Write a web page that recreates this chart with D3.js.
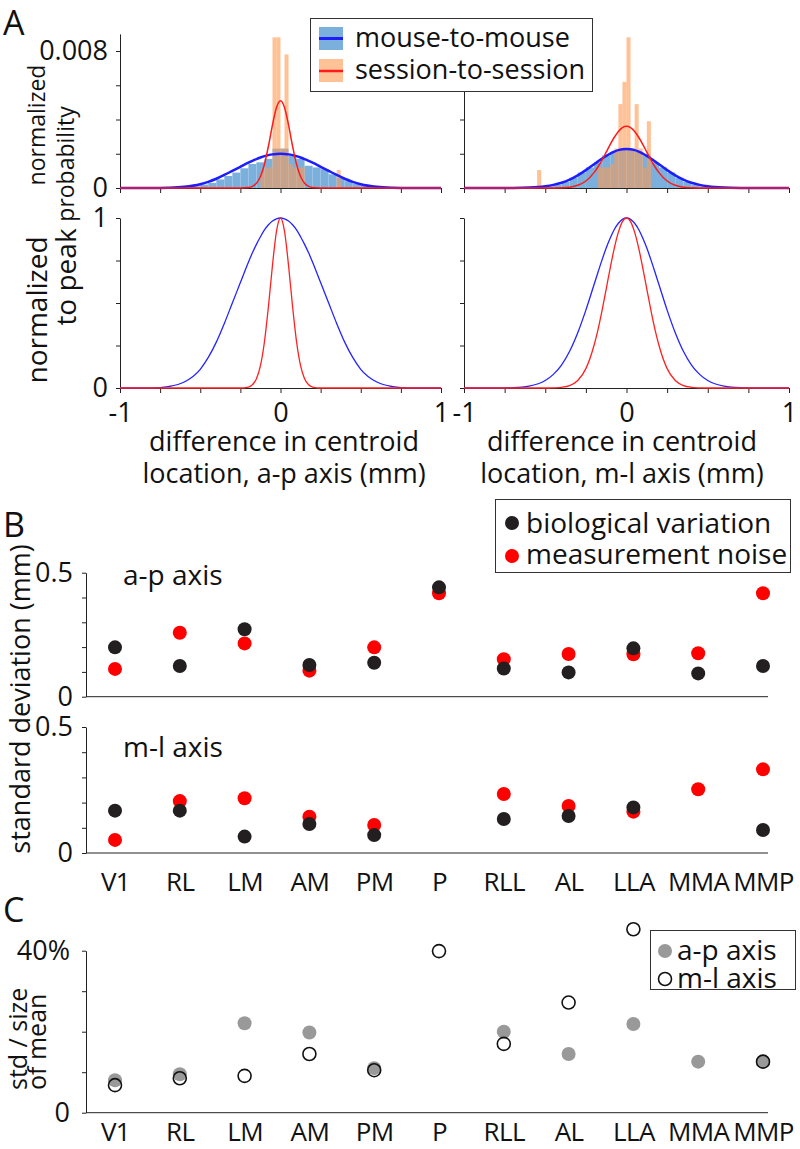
<!DOCTYPE html>
<html>
<head>
<meta charset="utf-8">
<script src="https://cdn.jsdelivr.net/npm/d3@7"></script>
<style>
  body { margin: 0; background: #fff; }
  text { font-family: "Open Sans", sans-serif; fill: #111; }
</style>
</head>
<body>
<div id="fig"></div>
<script>
// ---------- datos ----------

// A: histogramas (probabilidad normalizada por bin), x en mm
const mouseLeftStart = -0.65, mouseRightStart = -0.55, mouseBin = 0.05;
const mouseLeftVals = [0.00002, 0.00005, 0.0001, 0.0002, 0.0003, 0.0005, 0.0007, 0.0009, 0.00115, 0.0014, 0.0015, 0.0017, 0.0023,
                       0.0023, 0.0019, 0.0017, 0.0013, 0.0012, 0.0011, 0.0008, 0.0006, 0.0004, 0.00025, 0.00012, 0.00006, 0.00002];
const mouseRightVals = [0.00004, 0.0001, 0.0002, 0.00035, 0.0006, 0.0009, 0.0012, 0.0015, 0.0019, 0.0021, 0.0023,
                        0.0023, 0.0021, 0.0019, 0.0015, 0.0012, 0.0009, 0.0006, 0.00035, 0.0002, 0.0001, 0.00004];
const sessLeftStart = -0.15, sessRightStart = -0.55, sessBin = 0.025;
const sessLeftVals = [0, 0.0009, 0.0012, 0.0012, 0.0088, 0.0088, 0.0023, 0.0078, 0.0014, 0.0012, 0.0012, 0.0012,
                      0, 0, 0, 0, 0, 0, 0, 0, 0.00105, 0];
const sessRightVals = [0.00105, 0, 0, 0, 0, 0, 0, 0, 0, 0, 0, 0, 0, 0, 0,
                       0.0012, 0.0012, 0.0012, 0.0014, 0.0023, 0.0049, 0.0062, 0.0088, 0.0023, 0.0049, 0.0023, 0.0012, 0.0039];

// A: curvas ajustadas (normalizadas al pico)
const curveX = [-1, -0.8, -0.7, -0.6, -0.5, -0.45, -0.4, -0.35, -0.3, -0.25, -0.2, -0.175, -0.15, -0.125, -0.1, -0.075, -0.05, -0.025,
                0, 0.025, 0.05, 0.075, 0.1, 0.125, 0.15, 0.175, 0.2, 0.25, 0.3, 0.35, 0.4, 0.45, 0.5, 0.6, 0.7, 0.8, 1];
const blueLeftNorm = [0, 0, 0.008, 0.035, 0.11, 0.18, 0.27, 0.38, 0.5, 0.62, 0.74, 0.795, 0.845, 0.89, 0.93, 0.96, 0.982, 0.995,
                      1, 0.995, 0.982, 0.96, 0.93, 0.89, 0.845, 0.795, 0.74, 0.62, 0.5, 0.38, 0.27, 0.18, 0.11, 0.035, 0.008, 0, 0];
const redLeftNorm = [0, 0, 0, 0, 0, 0, 0, 0, 0, 0, 0.0055, 0.019, 0.054, 0.131, 0.272, 0.481, 0.722, 0.922,
                     1, 0.922, 0.722, 0.481, 0.272, 0.131, 0.054, 0.019, 0.0055, 0, 0, 0, 0, 0, 0, 0, 0, 0, 0];
const blueRightNorm = [0, 0, 0.002, 0.011, 0.044, 0.080, 0.135, 0.216, 0.325, 0.458, 0.607, 0.682, 0.755, 0.823, 0.882, 0.932, 0.969, 0.992,
                       1, 0.992, 0.969, 0.932, 0.882, 0.823, 0.755, 0.682, 0.607, 0.458, 0.325, 0.216, 0.135, 0.080, 0.044, 0.011, 0.002, 0, 0];
const redRightNorm = [0, 0, 0, 0, 0, 0.001, 0.004, 0.014, 0.044, 0.114, 0.250, 0.345, 0.458, 0.582, 0.707, 0.823, 0.917, 0.979,
                      1, 0.979, 0.917, 0.823, 0.707, 0.582, 0.458, 0.345, 0.250, 0.114, 0.044, 0.014, 0.004, 0.001, 0, 0, 0, 0, 0];
const peaksLeft = [0.0020, 0.0051];   // [mouse-to-mouse, session-to-session]
const peaksRight = [0.00228, 0.0036];

const xTicksA = [-1, -0.75, -0.5, -0.25, 0, 0.25, 0.5, 0.75, 1];
const probTicks = [0, 0.002, 0.004, 0.006, 0.008];
const normTicks = [0, 0.25, 0.5, 0.75, 1];

// B y C: areas visuales
const areas = ["V1", "RL", "LM", "AM", "PM", "P", "RLL", "AL", "LLA", "MMA", "MMP"];
const bioAP   = [0.199, 0.124, 0.272, 0.128, 0.137, 0.441, 0.114, 0.098, 0.195, 0.094, 0.124];
const noiseAP = [0.112, 0.258, 0.215, 0.105, 0.199, 0.417, 0.151, 0.172, 0.171, 0.175, 0.417];
const bioML   = [0.168, 0.168, 0.065, 0.115, 0.071, null, 0.135, 0.147, 0.181, null, 0.091];
const noiseML = [0.052, 0.206, 0.217, 0.144, 0.111, null, 0.234, 0.187, 0.164, 0.253, 0.332];
const relAP = [8.0, 9.5, 22.1, 19.8, 11.0, null, 20.0, 14.5, 21.9, 12.6, 12.6];   // %
const relML = [6.8, 8.5, 9.1, 14.5, 10.5, 39.9, 17.0, 27.2, 45.3, null, 12.6];
const sdTicks = [0, 0.1, 0.2, 0.3, 0.4, 0.5];
const relTicks = [0, 10, 20, 30, 40];

// ---------- figura ----------
const W = 800, H = 1149, FS = 27, FS_LEG = 28;
const BLUE_HIST = "#7cb0dc", ORANGE_HIST = "#ff9a50";

const svg = d3.select("#fig").append("svg").attr("width", W).attr("height", H);
svg.append("rect").attr("width", W).attr("height", H).attr("fill", "#fff");

function styleAxis(g) {
  g.attr("font-size", FS).attr("font-family", "Open Sans").attr("color", "#222");
  g.selectAll("text").attr("fill", "#111");
}

function catLabels(g) {
  styleAxis(g);
  g.attr("font-size", 26).attr("letter-spacing", -0.6);
}

function rotText(x, y, str, size, anchor) {
  svg.append("text")
    .attr("transform", `translate(${x},${y}) rotate(-90)`)
    .attr("text-anchor", anchor || "middle")
    .attr("font-size", size)
    .text(str);
}

function panelLetter(str, y) {
  svg.append("text").attr("x", 3).attr("y", y)
    .attr("font-family", "Liberation Sans").attr("font-size", 34).text(str);
}

// ---------- PANEL A ----------
panelLetter("A", 35);

const panelsA = [
  { x0: 120, x1: 441, mouse: mouseLeftVals, mouseStart: mouseLeftStart, sess: sessLeftVals, sessStart: sessLeftStart,
    blue: blueLeftNorm, red: redLeftNorm, peaks: peaksLeft, labels: true, title: "location, a-p axis (mm)", tx: 284 },
  { x0: 464, x1: 789, mouse: mouseRightVals, mouseStart: mouseRightStart, sess: sessRightVals, sessStart: sessRightStart,
    blue: blueRightNorm, red: redRightNorm, peaks: peaksRight, labels: false, title: "location, m-l axis (mm)", tx: 622 }
];

const yProb = d3.scaleLinear().domain([0, 0.009]).range([188, 33.9]);
const yNorm = d3.scaleLinear().domain([0, 1]).range([388, 218]);

panelsA.forEach(p => {
  const x = d3.scaleLinear().domain([-1, 1]).range([p.x0, p.x1]);

  // ejes (debajo de los datos)
  svg.append("g").attr("transform", "translate(0,188)")
    .call(d3.axisBottom(x).tickValues(xTicksA).tickSize(5).tickSizeOuter(0).tickFormat(""))
    .call(styleAxis);
  svg.append("g").attr("transform", `translate(${p.x0},0)`)
    .call(d3.axisLeft(yProb).tickValues(probTicks).tickSize(4).tickSizeOuter(0).tickPadding(8)
      .tickFormat(d => !p.labels ? "" : d === 0 ? "0" : d === 0.008 ? "0.008" : ""))
    .call(styleAxis);

  svg.append("g").attr("transform", "translate(0,388)")
    .call(d3.axisBottom(x).tickValues(xTicksA).tickSize(5).tickSizeOuter(0).tickPadding(10)
      .tickFormat(d => d === -1 ? "-1" : d === 0 ? "0" : d === 1 ? "1" : ""))
    .call(styleAxis);
  svg.append("g").attr("transform", `translate(${p.x0},0)`)
    .call(d3.axisLeft(yNorm).tickValues(normTicks).tickSize(4).tickSizeOuter(0).tickPadding(8)
      .tickFormat(d => !p.labels ? "" : d === 0 ? "0" : d === 1 ? "1" : ""))
    .call(styleAxis);

  // histogramas
  const mouseBins = p.mouse.map((v, i) => ({ a: p.mouseStart + i * mouseBin, b: p.mouseStart + (i + 1) * mouseBin, v }));
  const sessBins = p.sess.map((v, i) => ({ a: p.sessStart + i * sessBin, b: p.sessStart + (i + 1) * sessBin, v }))
    .filter(d => d.v > 0);

  svg.append("g").selectAll("rect").data(mouseBins).join("rect")
    .attr("x", d => x(d.a)).attr("width", d => x(d.b) - x(d.a))
    .attr("y", d => yProb(d.v)).attr("height", d => yProb(0) - yProb(d.v))
    .attr("fill", BLUE_HIST);
  svg.append("g").selectAll("rect").data(sessBins).join("rect")
    .attr("x", d => x(d.a)).attr("width", d => x(d.b) - x(d.a))
    .attr("y", d => yProb(d.v)).attr("height", d => yProb(0) - yProb(d.v))
    .attr("fill", ORANGE_HIST).attr("opacity", 0.6);

  // curvas arriba (probabilidad) y abajo (normalizada)
  const lineProb = peak => d3.line().x((d, i) => x(curveX[i])).y(d => yProb(d * peak)).curve(d3.curveMonotoneX);
  const lineNorm = d3.line().x((d, i) => x(curveX[i])).y(d => yNorm(d)).curve(d3.curveMonotoneX);

  svg.append("path").attr("d", lineProb(p.peaks[0])(p.blue)).attr("fill", "none").attr("stroke", "#1d1dff").attr("stroke-width", 2.5);
  svg.append("path").attr("d", lineProb(p.peaks[1])(p.red)).attr("fill", "none").attr("stroke", "#ff1a1a").attr("stroke-width", 1.5);
  svg.append("path").attr("d", lineNorm(p.blue)).attr("fill", "none").attr("stroke", "#2424ff").attr("stroke-width", 1.3);
  svg.append("path").attr("d", lineNorm(p.red)).attr("fill", "none").attr("stroke", "#ff2020").attr("stroke-width", 1.3);

  // titulo eje x
  svg.append("text").attr("x", p.tx).attr("y", 451).attr("text-anchor", "middle").attr("font-size", FS).text("difference in centroid");
  svg.append("text").attr("x", p.tx).attr("y", 483).attr("text-anchor", "middle").attr("font-size", FS).text(p.title);
});

rotText(45, 125, "normalized", 23);
rotText(74, 164, "probability", 23);
rotText(47, 310, "normalized", 28);
rotText(76, 277, "to peak", 28);

// leyenda A
const legA = svg.append("g");
legA.append("rect").attr("x", 310.5).attr("y", 18.5).attr("width", 282).attr("height", 73)
  .attr("fill", "#fff").attr("stroke", "#333").attr("stroke-width", 1);
legA.append("rect").attr("x", 319).attr("y", 27).attr("width", 24).attr("height", 23).attr("fill", BLUE_HIST);
legA.append("line").attr("x1", 319).attr("x2", 343).attr("y1", 38.5).attr("y2", 38.5).attr("stroke", "#1d1dff").attr("stroke-width", 3);
legA.append("rect").attr("x", 319).attr("y", 59).attr("width", 24).attr("height", 23).attr("fill", ORANGE_HIST).attr("opacity", 0.6);
legA.append("line").attr("x1", 319).attr("x2", 343).attr("y1", 71).attr("y2", 71).attr("stroke", "#ff1a1a").attr("stroke-width", 2.5);
legA.append("text").attr("x", 355).attr("y", 47).attr("font-size", FS).text("mouse-to-mouse");
legA.append("text").attr("x", 355).attr("y", 79).attr("font-size", FS).text("session-to-session");

// ---------- PANEL B ----------
panelLetter("B", 537);

const xCat = d3.scalePoint().domain(areas).range([115, 763]);
const yUp = d3.scaleLinear().domain([0, 0.5]).range([696.7, 572.7]);
const yLow = d3.scaleLinear().domain([0, 0.5]).range([853, 727]);
const sdFmt = d => d === 0 ? "0" : d === 0.5 ? "0.5" : "";

[yUp, yLow].forEach(y => {
  svg.append("g").attr("transform", "translate(86,0)")
    .call(d3.axisLeft(y).tickValues(sdTicks).tickSize(4).tickSizeOuter(0).tickPadding(9).tickFormat(sdFmt))
    .call(styleAxis);
  svg.append("line").attr("x1", 86).attr("x2", 768).attr("y1", y(0)).attr("y2", y(0))
    .attr("stroke", "#222").attr("stroke-width", 1);
});
svg.append("g").attr("transform", "translate(0,853)")
  .call(d3.axisBottom(xCat).tickSize(0).tickPadding(20))
  .call(g => g.select(".domain").remove())
  .call(catLabels);

svg.append("text").attr("x", 123).attr("y", 585).attr("font-size", FS_LEG).text("a-p axis");
svg.append("text").attr("x", 123).attr("y", 757).attr("font-size", FS_LEG).text("m-l axis");
rotText(30, 699, "standard deviation (mm)", FS);

function dots(vals, y, color) {
  svg.append("g").selectAll("circle")
    .data(vals.map((v, i) => ({ a: areas[i], v })).filter(d => d.v !== null))
    .join("circle")
    .attr("cx", d => xCat(d.a)).attr("cy", d => y(d.v)).attr("r", 7)
    .attr("fill", color);
}
dots(noiseAP, yUp, "#ff0000");
dots(bioAP, yUp, "#231f20");
dots(noiseML, yLow, "#ff0000");
dots(bioML, yLow, "#231f20");

const legB = svg.append("g");
legB.append("rect").attr("x", 495.5).attr("y", 499.5).attr("width", 295).attr("height", 73)
  .attr("fill", "#fff").attr("stroke", "#333");
legB.append("circle").attr("cx", 512).attr("cy", 523).attr("r", 7).attr("fill", "#231f20");
legB.append("circle").attr("cx", 512).attr("cy", 556).attr("r", 7).attr("fill", "#ff0000");
legB.append("text").attr("x", 526).attr("y", 533).attr("font-size", FS_LEG).text("biological variation");
legB.append("text").attr("x", 526).attr("y", 564).attr("font-size", FS_LEG).text("measurement noise");

// ---------- PANEL C ----------
panelLetter("C", 922);

const yRel = d3.scaleLinear().domain([0, 40]).range([1112.7, 950.7]);
svg.append("g").attr("transform", "translate(86,0)")
  .call(d3.axisLeft(yRel).tickValues(relTicks).tickSize(4).tickSizeOuter(0).tickPadding(12)
    .tickFormat(d => d === 0 ? "0" : d === 40 ? "40%" : ""))
  .call(styleAxis);
svg.append("line").attr("x1", 86).attr("x2", 768).attr("y1", yRel(0)).attr("y2", yRel(0))
  .attr("stroke", "#222").attr("stroke-width", 1);
svg.append("g").attr("transform", "translate(0,1112.7)")
  .call(d3.axisBottom(xCat).tickSize(0).tickPadding(10))
  .call(g => g.select(".domain").remove())
  .call(catLabels);

rotText(27, 1090, "std / size", 25, "start");
rotText(46, 1090, "of mean", 25, "start");

svg.append("g").selectAll("circle")
  .data(relAP.map((v, i) => ({ a: areas[i], v })).filter(d => d.v !== null))
  .join("circle")
  .attr("cx", d => xCat(d.a)).attr("cy", d => yRel(d.v)).attr("r", 7)
  .attr("fill", "#999");
svg.append("g").selectAll("circle")
  .data(relML.map((v, i) => ({ a: areas[i], v })).filter(d => d.v !== null))
  .join("circle")
  .attr("cx", d => xCat(d.a)).attr("cy", d => yRel(d.v)).attr("r", 6.5)
  .attr("fill", "none").attr("stroke", "#111").attr("stroke-width", 1.6);

const legC = svg.append("g");
legC.append("rect").attr("x", 650.5).attr("y", 930.5).attr("width", 145).attr("height", 59)
  .attr("fill", "#fff").attr("stroke", "#333");
legC.append("circle").attr("cx", 665).attr("cy", 951).attr("r", 7).attr("fill", "#999");
legC.append("circle").attr("cx", 665).attr("cy", 979).attr("r", 6.5).attr("fill", "none").attr("stroke", "#111").attr("stroke-width", 1.6);
legC.append("text").attr("x", 677).attr("y", 960).attr("font-size", FS_LEG).text("a-p axis");
legC.append("text").attr("x", 677).attr("y", 988).attr("font-size", FS_LEG).text("m-l axis");
</script>
</body>
</html>
